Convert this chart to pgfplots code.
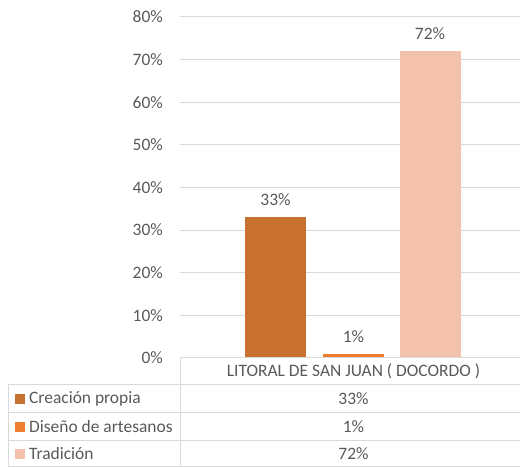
\documentclass[border=0pt]{standalone}
\usepackage{pgfplots}
\pgfplotsset{compat=1.18}
\usepackage{fontspec}
\setmainfont{Carlito}
\definecolor{cA}{HTML}{C8702F}
\definecolor{cB}{HTML}{ED7D31}
\definecolor{cC}{HTML}{F4C1AC}
\definecolor{gridc}{HTML}{D9D9D9}
\definecolor{txt}{HTML}{595959}
\begin{document}
\begin{tikzpicture}[x=1bp,y=1bp]
\useasboundingbox (0,0) rectangle (520,467);
\begin{axis}[
  at={(180bp,109bp)}, anchor=south west,
  scale only axis, width=340bp, height=341bp,
  xmin=0, xmax=340, ymin=0, ymax=80,
  axis line style={draw=none}, tick style={draw=none},
  /pgf/number format/assume math mode=true,
  xtick=\empty, ytick={0,10,...,80},
  ymajorgrids, major grid style={gridc, line width=1bp},
  yticklabel={\pgfmathprintnumber{\tick}\%},
  yticklabel style={anchor=east, inner sep=0pt, xshift=-17bp, text=txt, font=\fontsize{17.5}{19}\selectfont},
  ybar, bar width=61bp, bar shift=0bp, clip=false,
  nodes near coords={\pgfmathprintnumber{\pgfplotspointmeta}\%},
  every node near coord/.style={anchor=south, inner sep=0pt, yshift=11bp, text=txt, font=\fontsize{17.5}{19}\selectfont},
]
\addplot[fill=cA, draw=none] coordinates {(95.5,33)};
\addplot[fill=cB, draw=none] coordinates {(173.5,1)};
\addplot[fill=cC, draw=none] coordinates {(250,72)};
\end{axis}
% data table
\begin{scope}[gridc, line width=1bp]
\draw (180,109) -- (520,109);
\draw (180,109) -- (180,0.5);
\draw (8,82) -- (520,82);
\draw (8,54) -- (520,54);
\draw (8,26) -- (520,26);
\draw (8,0.5) -- (520,0.5);
\draw (8,82) -- (8,0.5);
\end{scope}
\begin{scope}[every node/.style={text=txt, font=\fontsize{17.5}{19}\selectfont, inner sep=0pt}]
\node at (353.5,95.5) {LITORAL DE SAN JUAN ( DOCORDO )};
\node at (353.5,68) {33\%};
\node at (353.5,40) {1\%};
\node at (353.5,13) {72\%};
\node[anchor=west] at (29,68) {Creación propia};
\node[anchor=west] at (29,40) {Diseño de artesanos};
\node[anchor=west] at (29,13) {Tradición};
\end{scope}
\fill[cA] (15,63) rectangle (25,73);
\fill[cB] (15,35) rectangle (25,45);
\fill[cC] (15,8) rectangle (25,18);
\end{tikzpicture}
\end{document}
